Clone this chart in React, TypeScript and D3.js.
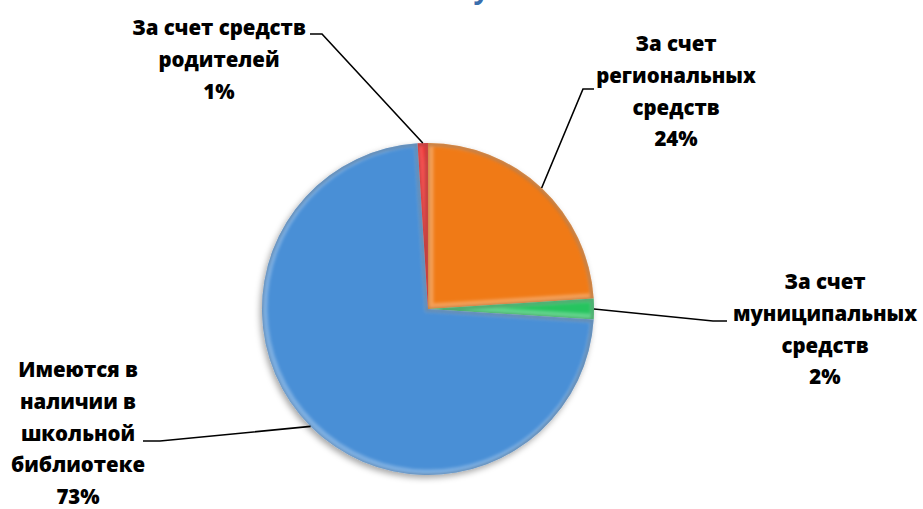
import React from "react";
import * as d3 from "d3";

const categories = [
  "За счет региональных средств",
  "За счет муниципальных средств",
  "Имеются в наличии в школьной библиотеке",
  "За счет средств родителей",
];
const values = [24, 2, 73, 1];
const percentLabels = ["24%", "2%", "73%", "1%"];
const labelLines = [
  ["За счет", "региональных", "средств", "24%"],
  ["За счет", "муниципальных", "средств", "2%"],
  ["Имеются в", "наличии в", "школьной", "библиотеке", "73%"],
  ["За счет средств", "родителей", "1%"],
];
const colors = ["#F07A14", "#27C45E", "#4A8FD6", "#EE1010"];
const titleText = "Обеспеченность учебниками";

const W = 923;
const H = 509;
const cx = 428;
const cy = 309;
const R = 166;

const labelPos = [
  { x: 676, y: 51 },
  { x: 825, y: 289 },
  { x: 78, y: 377 },
  { x: 219, y: 35 },
];
const elbows = [
  [[583, 89], [594, 89]],
  [[713, 321], [727, 321]],
  [[160, 441], [143, 441]],
  [[322, 34], [310, 34]],
];
const lineH = 31.8;

export default function App() {
  const pie = d3.pie<number>().sort(null).value((d) => d)(values);
  const arc = d3.arc<d3.PieArcDatum<number>>().innerRadius(0).outerRadius(R);

  return (
    <svg width={W} height={H} style={{ position: "absolute", left: 0, top: 0 }}>
      <defs>
        <filter id="shadow" x="-20%" y="-20%" width="140%" height="140%">
          <feDropShadow dx="-2" dy="3" stdDeviation="3" floodColor="#000" floodOpacity="0.35" />
        </filter>
        <filter id="blur2">
          <feGaussianBlur stdDeviation="1.5" />
        </filter>
        {pie.map((p, i) => (
          <clipPath id={`clip${i}`} key={i}>
            <path d={arc(p) || ""} />
          </clipPath>
        ))}
      </defs>
      <rect width={W} height={H} fill="#fff" />
      <text
        x={W / 2 - 20}
        y={-2}
        textAnchor="middle"
        fontFamily="'Open Sans', Lato, sans-serif"
        fontWeight="bold"
        fontSize={28}
        fill="#3A6EAD"
      >
        {titleText}
      </text>
      <g transform={`translate(${cx},${cy})`}>
        <g filter="url(#shadow)">
          {pie.map((p, i) => (
            <path key={i} d={arc(p) || ""} fill={colors[i]} />
          ))}
        </g>
        {pie.map((p, i) => (
          <g key={`b${i}`} clipPath={`url(#clip${i})`}>
            <path
              d={arc(p) || ""}
              fill="none"
              stroke="#fff"
              strokeOpacity={0.28}
              strokeWidth={9}
              filter="url(#blur2)"
              transform="translate(1,-1)"
            />
            <path
              d={arc(p) || ""}
              fill="none"
              stroke="#000"
              strokeOpacity={0.2}
              strokeWidth={4}
              filter="url(#blur2)"
              transform="translate(-1,1)"
            />
          </g>
        ))}
      </g>
      {pie.map((p, i) => {
        const mid = (p.startAngle + p.endAngle) / 2;
        const sx = cx + R * Math.sin(mid);
        const sy = cy - R * Math.cos(mid);
        const pts = [[sx, sy], ...elbows[i]];
        return (
          <polyline
            key={`l${i}`}
            points={pts.map((q) => q.join(",")).join(" ")}
            fill="none"
            stroke="#000"
            strokeWidth={1.6}
          />
        );
      })}
      {labelLines.map((lines, i) => (
        <text
          key={`t${i}`}
          textAnchor="middle"
          fontFamily="'Open Sans', Lato, sans-serif"
          fontWeight={800}
          fontSize={20.4}
          fill="#000"
        >
          {lines.map((ln, j) => (
            <tspan key={j} x={labelPos[i].x} y={labelPos[i].y + j * lineH}>
              {ln}
            </tspan>
          ))}
        </text>
      ))}
      <desc>{categories.join("; ") + " — " + percentLabels.join(", ")}</desc>
    </svg>
  );
}
